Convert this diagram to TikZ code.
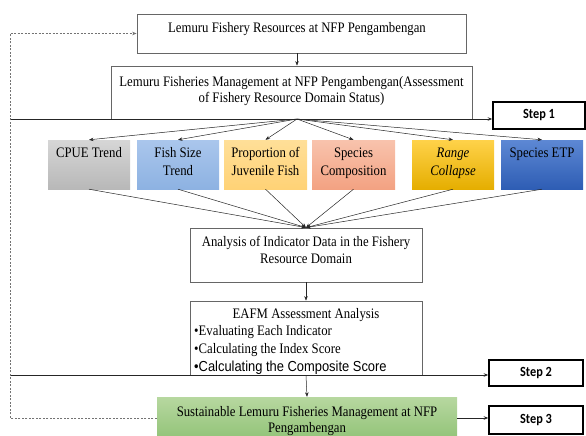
\documentclass[tikz,border=0pt]{standalone}
\usepackage{fontspec}
\setmainfont[FakeStretch=0.88]{Liberation Serif}
\newfontfamily\sansf[FakeStretch=0.89]{Liberation Sans}
\newfontfamily\stepf[FakeStretch=0.88]{Carlito}
\usetikzlibrary{arrows.meta}
\newcommand\tstrut{\rule{0pt}{13pt}}
\definecolor{cpueT}{HTML}{D6D6D6}\definecolor{cpueB}{HTML}{B8B8B8}
\definecolor{fishT}{HTML}{AAC6EC}\definecolor{fishB}{HTML}{8DB2E2}
\definecolor{juvT}{HTML}{FFDF98}\definecolor{juvB}{HTML}{FFD276}
\definecolor{spcT}{HTML}{F8C3AD}\definecolor{spcB}{HTML}{F3A282}
\definecolor{rngT}{HTML}{FFD24A}\definecolor{rngB}{HTML}{E5AE00}
\definecolor{etpT}{HTML}{5D88D4}\definecolor{etpB}{HTML}{2E5DB4}
\definecolor{grnT}{HTML}{B7D8A0}\definecolor{grnB}{HTML}{92C378}
\begin{document}
\begin{tikzpicture}[x=1pt,y=-1pt,
  wbox/.style={draw=black!60,line width=0.8pt,fill=white,inner sep=0pt},
  cbox/.style={inner sep=0pt,minimum width=82pt,minimum height=49pt},
  stepbox/.style={draw=black,line width=1.5pt,fill=white,inner sep=0pt,
    font=\stepf\bfseries\fontsize{14}{16}\selectfont},
  txt/.style={inner sep=0pt,align=center,anchor=north},
  arr/.style={-{Stealth[length=4.5pt,width=3.5pt]},line width=0.5pt,draw=black!85},
  dashln/.style={draw=black!55,line width=0.6pt,dash pattern=on 2pt off 1.5pt}]
\useasboundingbox (0,0) rectangle (586,436);

% boxes
\node[wbox,minimum width=329pt,minimum height=39pt] (top) at (301.5,33.5) {};
\node[wbox,minimum width=361pt,minimum height=53pt] (mgmt) at (291.5,92.5) {};
\node[cbox,top color=cpueT,bottom color=cpueB] (cpue) at (89,164.5) {};
\node[cbox,top color=fishT,bottom color=fishB] (fish) at (178,164.5) {};
\node[cbox,top color=juvT,bottom color=juvB,minimum width=83pt] (juv) at (265.5,164.5) {};
\node[cbox,top color=spcT,bottom color=spcB,minimum width=83pt] (spc) at (353.5,164.5) {};
\node[cbox,top color=rngT,bottom color=rngB] (rng) at (453,164.5) {};
\node[cbox,top color=etpT,bottom color=etpB] (etp) at (542,164.5) {};
\node[wbox,minimum width=232pt,minimum height=54pt] (analysis) at (306,255) {};
\node[wbox,minimum width=232pt,minimum height=74pt] (eafm) at (306,338) {};
\node[inner sep=0pt,minimum width=300pt,minimum height=42pt,top color=grnT,bottom color=grnB] (green) at (307,418) {};
\node[stepbox,minimum width=92pt,minimum height=27pt] (step1) at (539,115.5) {Step 1};
\node[stepbox,minimum width=94pt,minimum height=26pt] (step2) at (536,373) {Step 2};
\node[stepbox,minimum width=94pt,minimum height=28pt] (step3) at (536,420) {Step 3};

% texts
\node[txt,font=\fontsize{14.5}{16}\selectfont] (topt) at (297,19) {\tstrut Lemuru Fishery Resources at NFP Pengambengan};
\node[txt,font=\fontsize{14.5}{16}\selectfont] (mgmtt) at (291.5,73) {\tstrut Lemuru Fisheries Management at NFP Pengambengan(Assessment\\of Fishery Resource Domain Status)};
\node[txt,font=\fontsize{14.5}{18}\selectfont] (cpuet) at (89,144) {\tstrut CPUE Trend};
\node[txt,font=\fontsize{14.5}{18}\selectfont] (fisht) at (178,144) {\tstrut Fish Size\\Trend};
\node[txt,font=\fontsize{14.5}{18}\selectfont] (juvt) at (265.5,144) {\tstrut Proportion of\\Juvenile Fish};
\node[txt,font=\fontsize{14.5}{18}\selectfont] (spct) at (353.5,144) {\tstrut Species\\Composition};
\node[txt,font=\fontsize{14.5}{18}\selectfont\itshape] (rngt) at (453,144) {\tstrut Range\\Collapse};
\node[txt,font=\fontsize{14.5}{18}\selectfont] (etpt) at (542,144) {\tstrut Species ETP};
\node[txt,font=\fontsize{14.5}{16.7}\selectfont] (analysist) at (306,233.7) {\tstrut Analysis of Indicator Data in the Fishery\\Resource Domain};
\node[txt,font=\fontsize{14.5}{17}\selectfont] (eafmt) at (306,305) {\tstrut EAFM Assessment Analysis};
\node[txt,anchor=north west,align=left,font=\fontsize{14.5}{18}\selectfont] (eafml) at (194,322) {\tstrut •Evaluating Each Indicator\\•Calculating the Index Score\\{\sansf •Calculating the Composite Score}};
\node[txt,font=\fontsize{14.5}{16}\selectfont] (greent) at (307,403.7) {\tstrut Sustainable Lemuru Fisheries Management at NFP\\Pengambengan};

% connectors
\coordinate (fo) at (297,119);
\coordinate (l1) at (10,119);
\coordinate (l2) at (10,375);
\coordinate (dl) at (10,0);
\draw[arr] (fo |- top.south) -- (fo |- mgmt.north);
\draw[line width=0.8pt,draw=black!85,-{Stealth[length=4.5pt,width=3.5pt]}] (l1) -- (l1 -| step1.west);
\foreach \b in {cpue,fish,juv,spc,rng,etp}{
  \draw[arr] (fo) -- (\b.north);
  \draw[arr] (\b.south) -- (analysis.north);
}
\draw[arr] (analysis.south) -- (eafm.north);
\draw[line width=0.8pt,draw=black!85,-{Stealth[length=4.5pt,width=3.5pt]}] (l2) -- (l2 -| step2.west);
\draw[arr] (eafm.south) -- (green.north);
\draw[arr] (green.east) -- (green.east -| step3.west);
\draw[dashln,-{Stealth[length=4.5pt,width=3.5pt]}] (green.west) -- (green.west -| dl) |- (top.west);
\end{tikzpicture}
\end{document}
